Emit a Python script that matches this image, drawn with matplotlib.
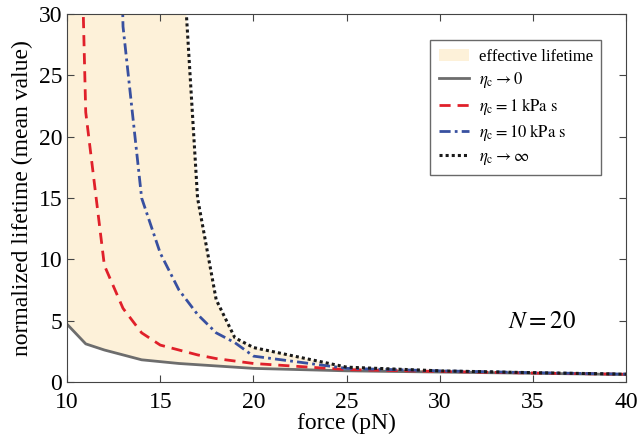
import numpy as np
import matplotlib
matplotlib.use("Agg")
import matplotlib.pyplot as plt

plt.rcParams['font.family'] = ['Liberation Serif', 'DejaVu Serif']
plt.rcParams['mathtext.fontset'] = 'stix'

# force grid (pN)
force = [10, 11, 12, 13, 14, 15, 16, 17, 18, 19, 20, 25, 30, 35, 40]

# normalized lifetime for each viscosity case
eta_zero = [4.7, 3.1, 2.6, 2.2, 1.8, 1.65, 1.5, 1.4, 1.3, 1.2, 1.1, 0.9, 0.8, 0.7, 0.6]
eta_1k = [83, 22, 9.5, 6.0, 4.0, 3.0, 2.6, 2.2, 1.9, 1.7, 1.5, 1.0, 0.85, 0.72, 0.62]
eta_10k = [300, 200, 100, 29, 15, 10.5, 7.5, 5.5, 4.0, 3.2, 2.1, 1.1, 0.9, 0.75, 0.63]
eta_inf = [500, 400, 300, 200, 100, 70, 40, 15, 6.7, 3.6, 2.8, 1.2, 0.9, 0.75, 0.63]

fig, ax = plt.subplots(figsize=(6.39, 4.43), dpi=100)
fig.subplots_adjust(left=0.105, right=0.98, bottom=0.138, top=0.968)

ax.fill_between(force, eta_zero, eta_inf, color='#fdf1d9', lw=0,
                label='effective lifetime')
ax.plot(force, eta_zero, color='#6d6d6d', lw=2.0, label=r'$\eta_{\rm c} \rightarrow 0$')
ax.plot(force, eta_1k, color='#e0202a', lw=2.0, ls=(0, (4, 2.5)),
        label=r'$\eta_{\rm c} = 1\ {\rm kPa\ s}$')
ax.plot(force, eta_10k, color='#3850a0', lw=2.0, ls=(0, (4, 1.5, 1, 1.5)),
        label=r'$\eta_{\rm c} = 10\ {\rm kPa\ s}$')
ax.plot(force, eta_inf, color='#1a1a1a', lw=2.2, ls=(0, (1, 1)),
        label=r'$\eta_{\rm c} \rightarrow \infty$')

ax.set_xlim(10, 40)
ax.set_ylim(0, 30)
ax.set_xticks([10, 15, 20, 25, 30, 35, 40])
ax.set_yticks([0, 5, 10, 15, 20, 25, 30])
ax.tick_params(direction='in', top=True, right=True, labelsize=17, length=5,
               color='#444444')
ax.tick_params(axis='x', pad=7)
for s in ax.spines.values():
    s.set_color('#444444')
ax.set_xlabel('force (pN)', fontsize=17, labelpad=0)
ax.set_ylabel('normalized lifetime (mean value)', fontsize=17, labelpad=4)

ax.text(37.3, 4.9, r'$N = 20$', fontsize=18, ha='right', va='center')

leg = ax.legend(loc='upper right', bbox_to_anchor=(0.955, 0.929), fontsize=12,
                frameon=True, fancybox=False, handlelength=1.8, borderpad=0.5,
                labelspacing=0.33, handletextpad=0.6, borderaxespad=0)
leg.get_frame().set_edgecolor('#444444')
leg.get_frame().set_linewidth(1.0)

fig.savefig('out.png', dpi=100)
